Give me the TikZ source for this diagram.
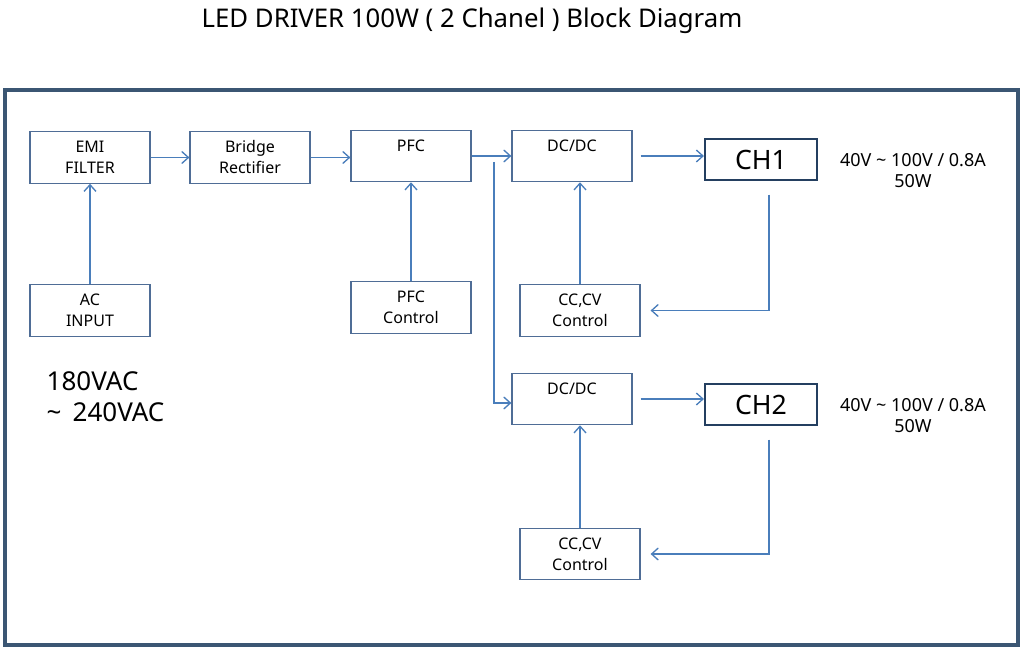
\documentclass[tikz,border=0pt]{standalone}
\usepackage{fontspec}
\setmainfont{Noto Sans}
\usetikzlibrary{arrows.meta,positioning}

\definecolor{boxline}{RGB}{79,109,150}
\definecolor{wireblue}{RGB}{74,126,187}
\definecolor{chline}{RGB}{36,63,96}
\definecolor{frameline}{RGB}{59,86,115}

\begin{document}
\begin{tikzpicture}[
		x=0.75pt,
		y=-0.75pt,
		block/.style={
			draw=boxline,
			line width=0.9pt,
			minimum width=90pt,
			minimum height=38.5pt,
			inner sep=0pt,
			align=center,
			font=\fontsize{12}{15.75}\selectfont,
		},
		chbox/.style={
			draw=chline,
			line width=1.6pt,
			minimum width=84pt,
			minimum height=31pt,
			inner sep=0pt,
			font=\fontsize{20}{22}\selectfont,
		},
		rating/.style={align=center,font=\fontsize{13.5}{15.75}\selectfont},
		wire/.style={draw=wireblue,line width=1pt},
		>={Straight Barb[length=5pt,width=9pt]}
		]
		\useasboundingbox (0,0) rectangle (1024,652);
		% Draw the title and the frame
		\node[font=\fontsize{19.3}{22}\selectfont] (title) at (472,21) {LED DRIVER 100W ( 2 Chanel ) Block Diagram};
		\draw[frameline,line width=2.4pt] (5,90) rectangle (1018,645);
		% Draw the input chain
		\node[block] (emi) at (90,157.5) {EMI\\FILTER};
		\node[block] (bridge) at (250,157.5) {Bridge\\Rectifier};
		\node[block] (pfc) at (411,156) {PFC\\\mbox{}};
		\node[block] (acin) at (90,310.5) {AC\\INPUT};
		\node[block] (pfcctl) at (411,307.5) {PFC\\Control};
		\draw[wire,->] (acin) -- (emi);
		\draw[wire,->] (emi) -- (bridge);
		\draw[wire,->] (bridge.east) -- (bridge.east -| pfc.west);
		\draw[wire,->] (pfcctl) -- (pfc);
		% Draw the two output channels
		\foreach \ch/\y/\cy/\fy in {1/156/159.5/310.5,2/399/404.5/554} {
			\node[block] (dcdc\ch) at (572,\y) {DC/DC\\\mbox{}};
			\node[chbox] (ch\ch) at (761,\cy) {CH\ch};
			\node[block] (cccv\ch) at (580,\fy) {CC,CV\\Control};
			\node[rating,right=13pt of ch\ch,yshift=-8.25pt] (spec\ch) {40V \textasciitilde{} 100V / 0.8A\\50W};
			\draw[wire,->] ([xshift=6pt]dcdc\ch.east) -- (ch\ch.west |- dcdc\ch.east);
			\draw[wire,->] ([xshift=6pt,yshift=-10pt]ch\ch.south) |- ([xshift=7.5pt]cccv\ch.east);
			\draw[wire,->] (cccv\ch) -- (cccv\ch |- dcdc\ch.south);
		}
		% Draw the split from PFC to both DC/DC stages
		\draw[wire,->] (pfc) -- (dcdc1);
		\coordinate (split) at (494,162);
		\draw[wire,->] (split) |- ([yshift=-3pt]dcdc2.west);
		% Draw the input range label
		\node[font=\fontsize{19.5}{23}\selectfont,align=left,anchor=north west] (range) at (42,367) {180VAC\\\textasciitilde{}\, 240VAC};
	\end{tikzpicture}
\end{document}
